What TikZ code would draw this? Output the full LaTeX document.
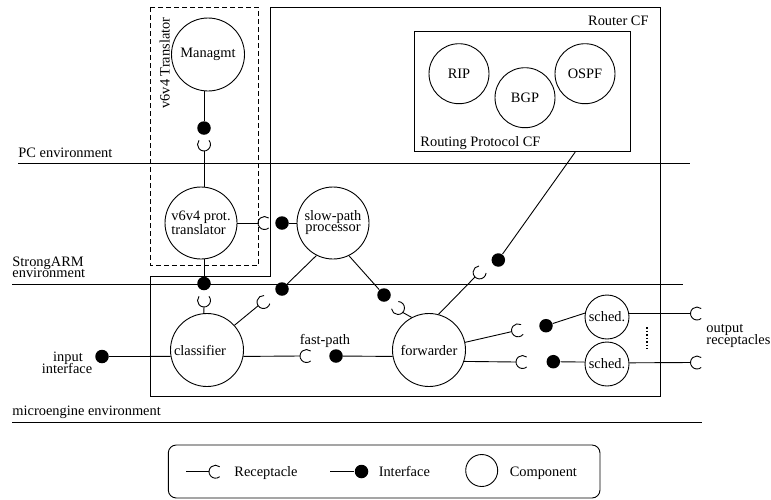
\documentclass[tikz,border=0pt]{standalone}
\usepackage{fontspec}
\setmainfont{Liberation Serif}
\usetikzlibrary{calc}
\newcommand{\recep}[3]{%
  \coordinate (#1) at #2;
  \coordinate (#1b) at ($(#1)+(#3+180:6.5)$);
  \draw ($(#1)+(#3+50:6.5)$) arc[start angle=#3+50, delta angle=260, radius=6.5];
}
\begin{document}
\begin{tikzpicture}[x=1pt, y=-1pt, line width=0.9pt,
  font=\fontsize{14.4}{11}\selectfont,
  comp/.style={circle, draw, inner sep=0pt, minimum size=73pt},
  sched/.style={comp, minimum size=44pt},
  small/.style={comp, minimum size=60pt},
  iface/.style={circle, fill=black, draw=none, inner sep=0pt, minimum size=13.5pt},
  lbl/.style={inner sep=0pt, anchor=base west}]
\useasboundingbox (0,0) rectangle (771,499);
% environment lines
\draw (18,163.3) -- (690,163.3);
\draw (12,284) -- (683,284);
\draw (12,422) -- (702,422);
\node[lbl] (tpc) at (18,157) {PC environment};
\node[lbl] (tsa1) at (12,266) {StrongARM};
\node[lbl] (tsa2) at (12,277.5) {environment};
\node[lbl] (tme) at (12,415.5) {microengine environment};
% Router CF
\draw (270,7.3) -- (660,7.3) -- (660,396.7) -- (150,396.7) -- (150,276.7) -- (270,276.7) -- cycle;
\node[lbl, anchor=base east] (trcf) at (649,25.5) {Router CF};
% v6v4 translator
\draw[dash pattern=on 5pt off 3pt] (150,7.3) rectangle (258.3,265.5);
\node[inner sep=0pt, rotate=90, anchor=base] (tv6) at (169.5,63) {v6v4 Translator};
% routing protocol CF
\node[draw, inner sep=0pt, minimum width=216pt, minimum height=120pt] (rp) at (522,91.7) {};
\node[lbl] (trp) at (420,146) {Routing Protocol CF};
\node[small] (rip) at (459,73.7) {RIP};
\node[small] (bgp) at (525,97.7) {BGP};
\node[small] (ospf) at (585,73.7) {OSPF};
% components
\node[comp] (mg) at (208,54.5) {Managmt};
\node[comp, align=left, minimum size=72pt] (tr) at (201,223) {v6v4 prot.\\translator};
\node[comp, align=center, minimum size=72pt] (sp) at (333,223) {slow-path\\processor};
\node[comp] (cl) at (207,350) {\hspace*{-14pt}classifier};
\node[comp] (fw) at (429,350) {forwarder};
\node[sched] (s1) at (607,317) {sched.};
\node[sched] (s2) at (607,364) {sched.};
% interfaces
\node[iface] (dmg) at (204,128) {};
\node[iface] (dcl) at (204,283.5) {};
\node[iface] (dsp) at (282,223) {};
\node[iface] (dspcl) at (282,289) {};
\node[iface] (dspfw) at (384,295) {};
\node[iface] (drp) at (498.3,260) {};
\node[iface] (ds1) at (546,325.7) {};
\node[iface] (ds2) at (553.3,361.7) {};
\node[iface] (din) at (102,356.5) {};
\node[iface] (dfp) at (336,356) {};
% receptacles
\recep{rmg}{(204,144.5)}{-90}
\recep{rcl}{(204,300.5)}{-90}
\recep{rtr}{(264.5,223)}{0}
\recep{rclsp}{(263.5,302)}{-35}
\recep{rfwsp}{(398,308)}{-137}
\recep{rfwrp}{(479.6,272.4)}{-45}
\recep{rfwa}{(518,330.3)}{-12}
\recep{rfwb}{(522.5,362)}{0}
\recep{rfp}{(306.5,356)}{0}
\recep{roa}{(697,313.5)}{0}
\recep{rob}{(697,362.5)}{0}
% connectors
\draw (dmg |- mg.south) -- (dmg);
\draw (rmgb) -- (rmgb |- tr.north);
\draw (dcl |- tr.south) -- (dcl);
\draw (rclb) -- (cl.95);
\draw (tr.east) -- (rtrb);
\draw (dsp) -- (sp);
\draw (sp.243) -- (dspcl);
\draw (rclspb) -- (cl.42);
\draw (sp.296) -- (dspfw);
\draw (rfwspb) -- (fw.118);
\draw (fw.75) -- (rfwrpb);
\draw (drp) -- ($(rp.south west)!0.745!(rp.south east)$);
\draw (fw.12) -- (rfwab);
\draw (ds1) -- (s1.170);
\draw (fw.342) -- (rfwbb);
\draw (ds2) -- (s2.175);
\draw (s1.9) -- (roab);
\draw (s2.3) -- (robb);
\draw (din) -- (cl.190);
\draw (cl.350) -- (rfpb);
\draw (dfp) -- (fw.190);
\draw[line width=2.2pt, dash pattern=on 1.5pt off 2pt] (647,327) -- (647,349);
% labels
\node[lbl, anchor=base] (tin1) at (68,361.5) {input};
\node[lbl, anchor=base] (tin2) at (67,373) {interface};
\node[lbl, anchor=base] (tfp) at (325,344) {fast-path};
\node[lbl] (tout1) at (706,332.5) {output};
\node[lbl] (tout2) at (706,344) {receptacles};
% legend
\draw[rounded corners=8pt] (168.3,445) rectangle (600,498);
\coordinate (lra) at (186,471.7);
\recep{lr}{(215.5,471.7)}{0}
\draw (lra) -- (lrb);
\node[lbl] (tlr) at (234,476) {Receptacle};
\coordinate (lia) at (330,471.5);
\node[iface] (ld) at (361.5,471.5) {};
\draw (lia) -- (ld);
\node[lbl] (tli) at (378.3,476) {Interface};
\node[comp, minimum size=32pt] (lc) at (481.7,470.5) {};
\node[lbl] (tlc) at (509.3,476) {Component};
\end{tikzpicture}
\end{document}
